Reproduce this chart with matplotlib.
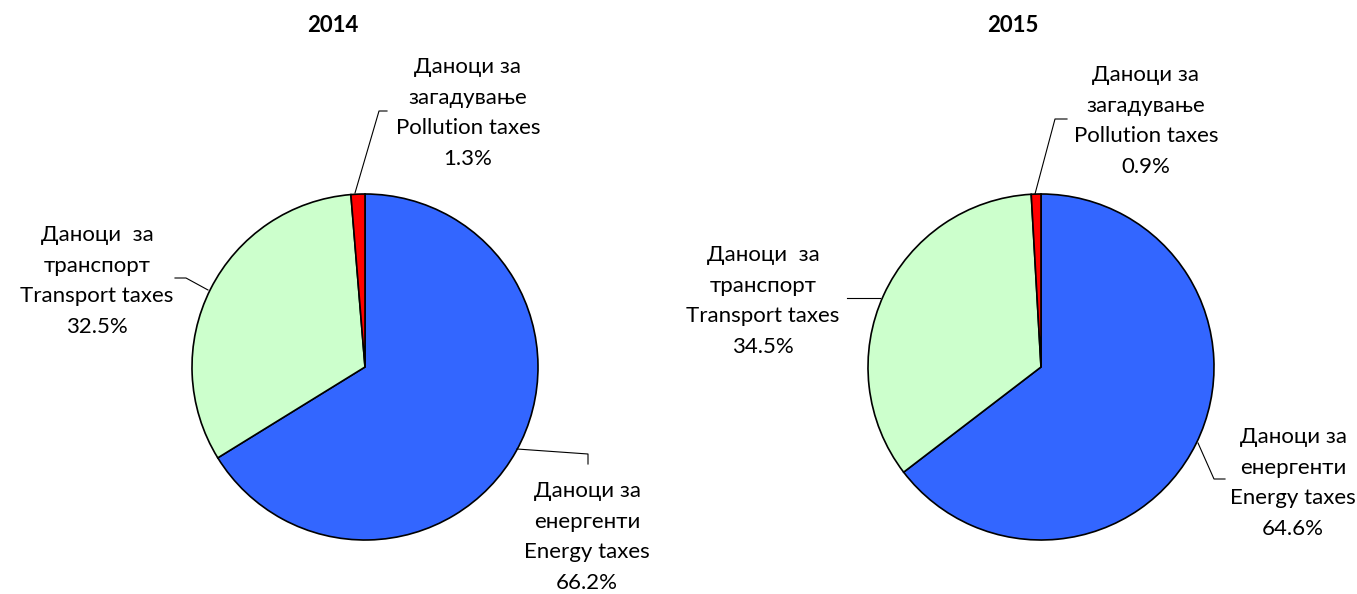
import matplotlib
matplotlib.use("Agg")
import matplotlib.pyplot as plt

plt.rcParams['font.family'] = ['Lato', 'Noto Sans', 'DejaVu Sans']

years = ["2014", "2015"]
categories_mk = ["Даноци за\nенергенти", "Даноци  за\nтранспорт", "Даноци за\nзагадување"]
categories_en = ["Energy taxes", "Transport taxes", "Pollution taxes"]
values_2014 = [66.2, 32.5, 1.3]
values_2015 = [64.6, 34.5, 0.9]
colors = ["#3366FF", "#CCFFCC", "#FF0000"]

W, H = 1357, 594
fig = plt.figure(figsize=(W / 100, H / 100), dpi=100)
ax = fig.add_axes([0, 0, 1, 1])
ax.set_xlim(0, W)
ax.set_ylim(0, H)
ax.set_aspect('equal')
ax.axis('off')

def Y(y):
    return H - y

centers = [(365, 367), (1041, 367)]
radius = 173
title_pos = [(333, 25), (1013, 25)]

# label centres (px) and leader paths (px) per pie, per category
label_pos = [
    [(587, 537), (97, 281), (468, 113)],
    [(1293, 483), (763, 301), (1146, 121)],
]
leaders = [
    [[(517, 449), (588, 454), (588, 464)],
     [(208, 290), (186, 278), (175, 278)],
     [(355, 193), (379, 111), (387, 111)]],
    [[(1198, 443), (1214, 479), (1225, 479)],
     [(880, 298), (847, 298)],
     [(1035, 194), (1055, 119), (1067, 119)]],
]

for i, vals in enumerate([values_2014, values_2015]):
    cx, cy = centers[i]
    ax.pie(vals, colors=colors, startangle=90, counterclock=False,
           center=(cx, Y(cy)), radius=radius,
           wedgeprops=dict(edgecolor='black', linewidth=1.2))
    ax.text(title_pos[i][0], Y(title_pos[i][1]), years[i], ha='center', va='center',
            fontsize=16, fontweight='bold')
    for j, v in enumerate(vals):
        lx, ly = label_pos[i][j]
        txt = f"{categories_mk[j]}\n{categories_en[j]}\n{v:.1f}%"
        ax.text(lx, Y(ly), txt, ha='center', va='center', fontsize=16,
                linespacing=1.65)
        pts = leaders[i][j]
        ax.plot([p[0] for p in pts], [Y(p[1]) for p in pts], color='black', lw=0.8)

ax.set_xlim(0, W)
ax.set_ylim(0, H)
fig.savefig("out.png", dpi=100)
